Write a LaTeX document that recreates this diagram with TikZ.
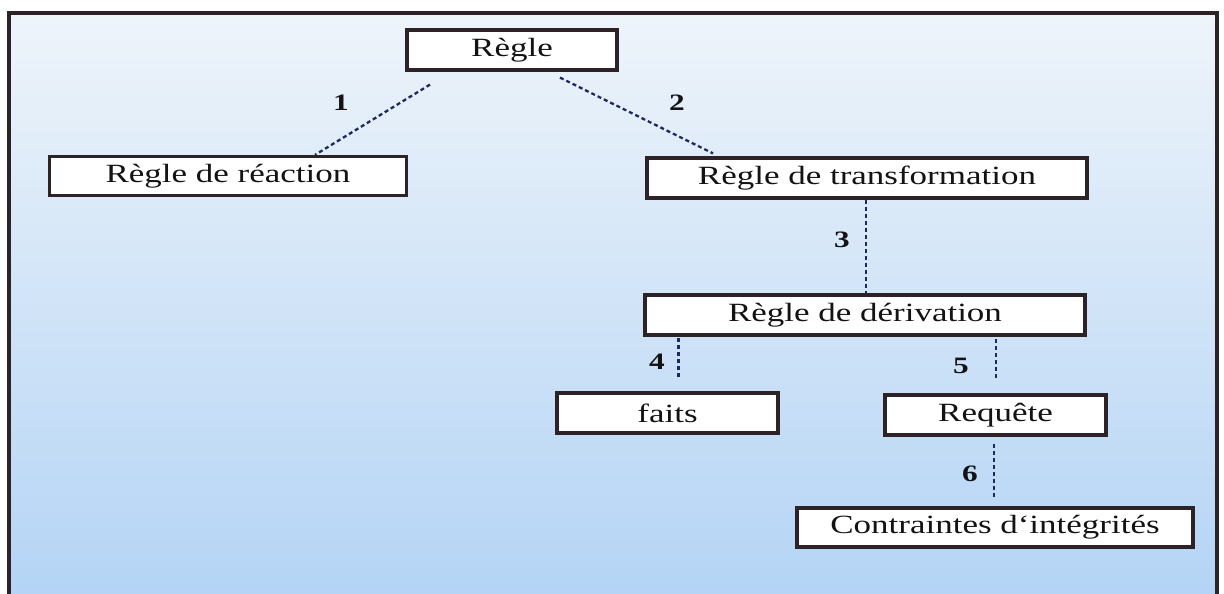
\documentclass[tikz,border=0pt]{standalone}
\usepackage{fontspec}
\setmainfont{Liberation Serif}[FakeStretch=1.33]
\usetikzlibrary{calc}
\definecolor{framecol}{RGB}{45,35,38}
\definecolor{linkcol}{RGB}{30,42,95}
\definecolor{bgtop}{RGB}{238,244,250}
\definecolor{bgbot}{RGB}{180,212,245}
\definecolor{inkcol}{RGB}{20,18,18}
\tikzset{
  rulebox/.style={draw=framecol, line width=3.2pt, fill=white, inner sep=0pt,
    font=\fontsize{26.3}{30}\selectfont, text=inkcol},
  link/.style={draw=linkcol, line width=2.3pt, dash pattern=on 4pt off 3pt},
  num/.style={font=\fontsize{23.5}{26}\selectfont\bfseries, text=inkcol}
}
\begin{document}
\begin{tikzpicture}[x=1pt, y=-1pt]
\useasboundingbox (0,0) rectangle (1224,594);
% backdrop and frame
\shade[top color=bgtop, bottom color=bgbot] (9,13) rectangle (1217,594);
\draw[framecol, line width=3.2pt] (9,600) -- (9,13) -- (1217,13) -- (1217,600);

% rule boxes
\node[rulebox, minimum width=210pt, minimum height=40pt] (regle) at (512,50) {Règle};
\node[rulebox, minimum width=357pt, minimum height=39pt] (reaction) at (228,176) {Règle de réaction};
\node[rulebox, minimum width=440pt, minimum height=40pt] (transf) at (867,178) {Règle de transformation};
\node[rulebox, minimum width=440pt, minimum height=40pt] (deriv) at (865,315) {Règle de dérivation};
\node[rulebox, minimum width=221pt, minimum height=40pt] (faits) at (667.5,413) {faits};
\node[rulebox, minimum width=221pt, minimum height=40pt] (requete) at (995.5,415) {Requête};
\node[rulebox, minimum width=396pt, minimum height=39pt] (contr) at (995,527.5) {Contraintes d\char"60 intégrités};

% link end points
\coordinate (t3) at ($(transf.south)+(-1,0)$);
\coordinate (a4) at ($(faits.north)+(11,-53)$);
\coordinate (b4) at ($(faits.north)+(11,-13)$);
\coordinate (a5) at ($(requete.north)+(0.5,-54)$);
\coordinate (b5) at ($(requete.north)+(0.5,-13)$);

% links
\draw[link] ($(regle.south)+(-82,13)$) -- ($(reaction.north)+(87,0)$);
\draw[link] ($(regle.south)+(48,6)$) -- ($(transf.north)+(-154,-3)$);
\draw[link] (t3) -- (t3 |- deriv.north);
\draw[link] (a4) -- (b4);
\draw[link] (a5) -- (b5);
\draw[link] ($(requete.south)+(-1.5,7)$) -- ($(contr.north)+(-1,-8)$);

% link numbers
\node[num] (n1) at (341,103) {1};
\node[num] (n2) at (677,103) {2};
\node[num] (n3) at (842,240) {3};
\node[num] (n4) at (657,362) {4};
\node[num] (n5) at (961,366) {5};
\node[num] (n6) at (970,474) {6};
\end{tikzpicture}
\end{document}
